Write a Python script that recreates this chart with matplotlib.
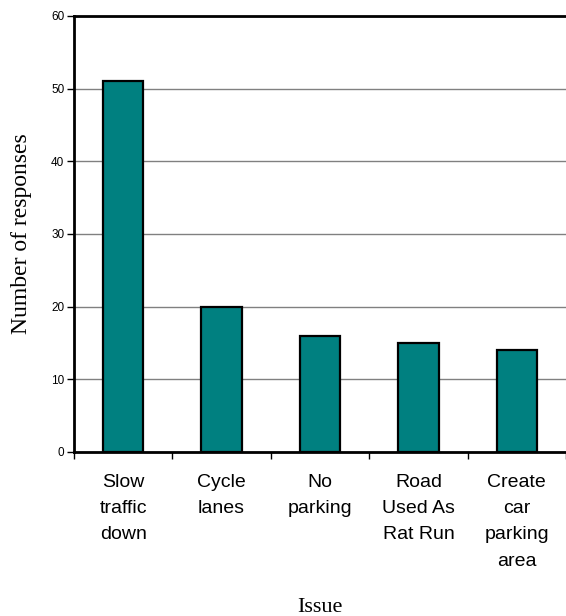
import matplotlib.pyplot as plt
import numpy as np

# survey responses per issue
issues = ['Slow\ntraffic\ndown', 'Cycle\nlanes', 'No\nparking',
          'Road\nUsed As\nRat Run', 'Create\ncar\nparking\narea']
responses = [51, 20, 16, 15, 14]
y_ticks = [0, 10, 20, 30, 40, 50, 60]

fig = plt.figure(figsize=(5.66, 6.16), dpi=100)
ax = fig.add_axes([74 / 566, 1 - 452 / 616, 1 - 74 / 566, (452 - 16) / 616])

x = np.arange(len(issues))
ax.bar(x, responses, width=0.41, color='#008080', edgecolor='black',
       linewidth=1.6, zorder=3)

ax.set_xlim(-0.5, len(issues) - 0.5)
ax.set_ylim(0, 60)
ax.set_yticks(y_ticks)
ax.yaxis.grid(True, color='#808080', linewidth=1.0, zorder=0)

ax.set_xticks(x)
ax.set_xticklabels(issues, fontsize=14, family='Liberation Sans', linespacing=1.7)
ax.tick_params(axis='x', which='major', length=0, pad=16)
ax.set_xticks(np.arange(-0.5, len(issues)), minor=True)
ax.tick_params(axis='x', which='minor', length=5, width=1, color='black')
ax.tick_params(axis='y', length=5, width=1, labelsize=8.5, pad=2)
for lbl in ax.get_yticklabels():
    lbl.set_family('Liberation Sans')

for side in ['left', 'top', 'bottom']:
    ax.spines[side].set_linewidth(2)
    ax.spines[side].set_color('black')
ax.spines['right'].set_visible(False)

ax.set_ylabel('Number of responses', fontsize=17, family='Liberation Serif', labelpad=14)
# axis title placed by hand, the tall tick labels would push it off the figure
fig.text(320 / 566, 1 - 612 / 616, 'Issue', fontsize=16, family='Liberation Serif',
         ha='center', va='baseline')

fig.savefig('out.png', dpi=100)
